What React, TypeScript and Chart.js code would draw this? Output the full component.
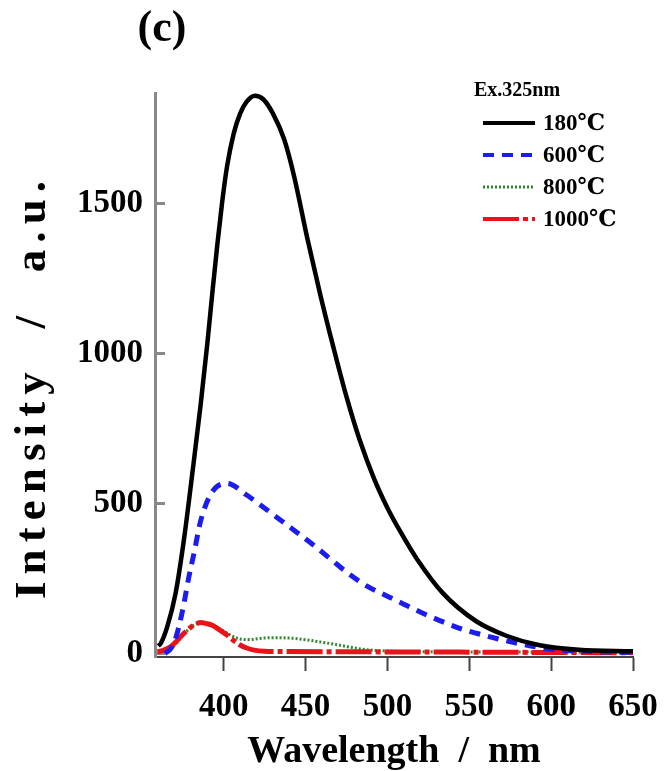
import React, { useEffect, useRef } from 'react';
import { Chart, registerables } from 'chart.js';

Chart.register(...registerables);

// ---- data ----
const seriesLabels = ['180℃', '600℃', '800℃', '1000℃'];

const wl180 = [360, 361.5, 365.5, 370.6, 375.7, 380.8, 385.9, 390, 393, 396, 399, 402, 406, 410, 414, 419, 424, 430, 437, 443, 451, 459, 467, 475, 483, 492, 500, 508, 518, 534, 554, 573, 593, 617, 650];
const int180 = [25, 33, 89, 201, 380, 600, 830, 1035, 1200, 1359, 1503, 1623, 1731, 1799, 1839, 1859, 1848, 1800, 1712, 1590, 1385, 1195, 1020, 855, 712, 580, 485, 405, 315, 200, 108, 58, 27, 12, 7];

const wl600 = [364, 367, 369.5, 372.6, 375.7, 378.7, 381.8, 386, 393, 402, 414, 426.5, 438.7, 447, 456, 466, 476, 487.5, 498.7, 510, 522, 534, 546, 558.6, 570.8, 580, 600, 625, 650];
const int600 = [0, 12, 33, 89, 167, 255, 333, 444, 539, 567, 528, 478, 428, 394, 356, 311, 267, 224, 194, 164, 133, 105, 80, 61, 44, 33, 14, 6, 3];

const wl800 = [360, 365, 370, 375, 380, 384, 387, 391, 395, 400, 405, 410, 416, 422, 428, 435, 443, 451, 458, 466, 474, 481, 490, 500, 520, 550, 600, 650];
const int800 = [5, 12, 28, 60, 88, 100, 104, 100, 90, 74, 58, 48, 46, 50, 52, 52, 50, 45, 39, 32, 24, 17, 11, 8, 6, 5, 4, 3];

const wl1000 = [359.5, 363, 367.5, 371, 375.7, 380, 383, 386, 389, 393, 397, 402, 406, 410, 414, 418.5, 425, 440, 500, 560, 600, 650];
const int1000 = [5, 10, 22, 40, 67, 88, 98, 103, 100, 94, 80, 61, 43, 28, 18, 11, 7, 6, 5, 4, 3, 2];

const xTicks = [400, 450, 500, 550, 600, 650];
const yTicks = [0, 500, 1000, 1500];

const legendTitle = 'Ex.325nm';
const panelLabel = '(c)';
const xTitle = 'Wavelength  /  nm';
const yTitle = 'Intensity  /  a.u.';

const SERIF = '"Liberation Serif", "Times New Roman", "DejaVu Serif", serif';

const pts = (xs: number[], ys: number[]) => xs.map((x, i) => ({ x, y: ys[i] }));

const decorPlugin = {
  id: 'decor',
  afterDraw(chart: any) {
    const { ctx, chartArea } = chart;
    ctx.save();
    ctx.fillStyle = '#000';
    ctx.textBaseline = 'middle';

    // panel label
    ctx.font = `bold 44px ${SERIF}`;
    ctx.textAlign = 'center';
    ctx.fillText(panelLabel, chartArea.left + 7, 30);

    // y axis title (spread to the reference's length)
    ctx.save();
    ctx.translate(33, (chartArea.top + chartArea.bottom) / 2 + 15);
    ctx.rotate(-Math.PI / 2);
    ctx.font = `bold 45px ${SERIF}`;
    const plain = ctx.measureText(yTitle).width;
    const spacing = Math.max(0, (418 - plain) / (yTitle.length - 1));
    (ctx as any).letterSpacing = `${spacing}px`;
    ctx.textAlign = 'center';
    ctx.fillText(yTitle, spacing / 2, 0);
    ctx.restore();

    // legend
    const lx = chartArea.right - 150;
    ctx.textAlign = 'left';
    ctx.font = `bold 20px ${SERIF}`;
    ctx.fillText(legendTitle, lx - 9, chartArea.top - 2);
    ctx.font = `bold 23px ${SERIF}`;
    chart.data.datasets.forEach((ds: any, i: number) => {
      const y = chartArea.top + 30 + i * 32;
      ctx.save();
      ctx.strokeStyle = ds.borderColor;
      ctx.lineWidth = Math.min(ds.borderWidth, 4);
      ctx.setLineDash(ds.borderDash || []);
      ctx.beginPath();
      ctx.moveTo(lx, y);
      ctx.lineTo(lx + 52, y);
      ctx.stroke();
      ctx.restore();
      ctx.fillText(ds.label, lx + 60, y + 1);
    });
    ctx.restore();
  },
};

export default function App() {
  const ref = useRef<HTMLCanvasElement | null>(null);

  useEffect(() => {
    if (!ref.current) return;
    const tickFont = { family: SERIF, size: 33, weight: 'bold' as const };
    const chart = new Chart(ref.current, {
      type: 'line',
      data: {
        datasets: [
          { label: seriesLabels[0], data: pts(wl180, int180), borderColor: '#000000', borderWidth: 4.5, borderDash: [], pointRadius: 0, order: 0, cubicInterpolationMode: 'monotone' },
          { label: seriesLabels[1], data: pts(wl600, int600), borderColor: '#1c1cf0', borderWidth: 5, borderDash: [11, 8], pointRadius: 0, order: 1, cubicInterpolationMode: 'monotone' },
          { label: seriesLabels[2], data: pts(wl800, int800), borderColor: '#2f8a2f', borderWidth: 3, borderDash: [2, 2], pointRadius: 0, order: 3, cubicInterpolationMode: 'monotone' },
          { label: seriesLabels[3], data: pts(wl1000, int1000), borderColor: '#e8141a', borderWidth: 5, borderDash: [36, 4, 5, 4], pointRadius: 0, order: 2, cubicInterpolationMode: 'monotone' },
        ],
      },
      options: {
        animation: false,
        responsive: false,
        layout: { padding: { left: 0, top: 93, right: 32, bottom: 0 } },
        plugins: {
          legend: { display: false },
          tooltip: { enabled: false },
          title: { display: false },
        },
        scales: {
          x: {
            type: 'linear',
            min: 358,
            max: 650,
            afterBuildTicks: (s: any) => { s.ticks = xTicks.map((v) => ({ value: v })); },
            afterFit: (s: any) => { s.height = 114; s.paddingLeft = 0; s.paddingRight = 0; },
            border: { color: '#444444', width: 2 },
            grid: { drawOnChartArea: false, drawTicks: true, tickLength: 14, tickColor: '#444444', tickWidth: 2 },
            ticks: { color: '#000', font: tickFont, padding: 17, maxRotation: 0, autoSkip: false, callback: (v: any) => String(v) },
            title: { display: true, text: xTitle, color: '#000', font: { family: SERIF, size: 38, weight: 'bold' }, padding: { top: 0, bottom: -4 } },
          },
          y: {
            type: 'linear',
            min: -12,
            max: 1868,
            afterBuildTicks: (s: any) => { s.ticks = yTicks.map((v) => ({ value: v })); },
            afterFit: (s: any) => { s.width = 155; },
            border: { color: '#888888', width: 3 },
            grid: { drawOnChartArea: false, drawTicks: true, tickLength: -10, tickColor: '#888888', tickWidth: 3 },
            ticks: { color: '#000', font: tickFont, padding: 22, autoSkip: false, callback: (v: any) => String(v) },
          },
        },
      } as any,
      plugins: [decorPlugin],
    });
    return () => chart.destroy();
  }, []);

  return (
    <div style={{ position: 'absolute', left: 0, top: 0, width: 665, height: 771, background: '#fff' }}>
      <canvas ref={ref} width={665} height={771} style={{ display: 'block', width: 665, height: 771 }} />
    </div>
  );
}
